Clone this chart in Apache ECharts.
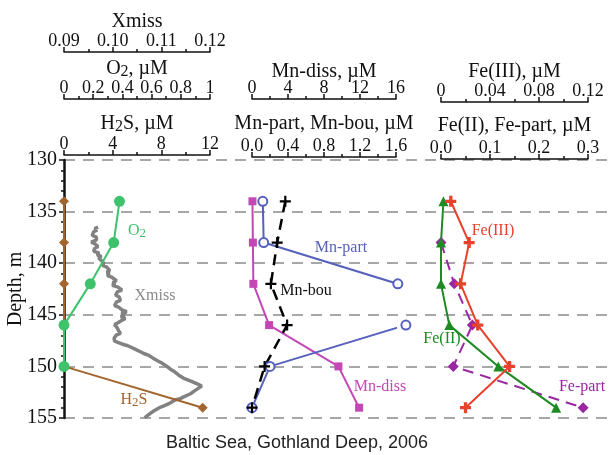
<!DOCTYPE html>
<html><head><meta charset="utf-8">
<script src="https://cdn.jsdelivr.net/npm/echarts/dist/echarts.min.js"></script>
<style>html,body{margin:0;padding:0;background:#fff}#c{width:609px;height:455px}</style>
</head><body><div id="c"></div>
<script>
// ---- data ----
const depths = [134, 138, 142, 146, 150, 154];
const o2Depths = [134, 138, 142, 146, 150];
const o2 = [0.38, 0.34, 0.18, 0, 0];
const h2s = [0, 0, 0, 0, 0, 11.4];
const mnDiss = [0.05, 0.1, 0.15, 1.9, 9.6, 11.9];
const mnPart = [0.12, 0.13, 1.62, 1.71, 0.2, 0.0];
const mnBou = [0.37, 0.28, 0.21, 0.39, 0.14, 0.0];
const fe2 = [0.005, 0.0, 0.0, 0.017, 0.117, 0.235];
const fe3 = [0.008, 0.023, 0.016, 0.030, 0.056, 0.020];
const fePartDepths = [138, 142, 146, 150, 154];
const fePart = [0.0, 0.027, 0.064, 0.025, 0.29];
const xmissDepth = [136.5,136.65,136.8,136.95,137.1,137.3,137.45,137.6,137.75,137.95,138.1,138.25,138.4,138.55,138.7,138.85,139.0,139.2,139.35,139.5,139.7,139.85,140.0,140.2,140.35,140.5,140.7,140.85,141.0,141.2,141.35,141.5,141.7,141.85,142.0,142.15,142.3,142.45,142.6,142.75,142.9,143.1,143.25,143.4,143.6,143.75,143.9,144.1,144.25,144.4,144.55,144.7,144.85,145.0,145.2,145.35,145.5,145.65,145.8,145.95,146.1,146.25,146.4,146.6,146.8,146.95,147.1,147.25,147.4,147.55,147.7,147.85,148.0,148.15,148.3,148.45,148.6,148.75,148.9,149.05,149.2,149.35,149.5,149.65,149.8,149.95,150.1,150.25,150.4,150.55,150.7,150.85,151.0,151.15,151.3,151.45,151.6,151.75,151.9,152.05,152.2,152.35,152.5,152.65,152.8,152.95,153.1,153.25,153.4,153.55,153.7,153.85,154.0,154.15,154.3,154.45,154.6,154.75,154.9,155.0];
const xmissVal = [0.0970,0.0963,0.0968,0.0961,0.0965,0.0958,0.0966,0.0962,0.0967,0.0956,0.0963,0.0960,0.0970,0.0963,0.0967,0.0961,0.0972,0.0968,0.0977,0.0971,0.0976,0.0972,0.0982,0.0979,0.0987,0.0984,0.0994,0.0988,0.0993,0.0989,0.0998,0.0996,0.1008,0.1000,0.1005,0.0999,0.1010,0.1007,0.1019,0.1010,0.1014,0.1006,0.1013,0.1009,0.1016,0.1008,0.1011,0.1004,0.1012,0.1010,0.1020,0.1029,0.1018,0.1024,0.1017,0.1026,0.1029,0.1015,0.1010,0.1004,0.1001,0.1009,0.1006,0.1013,0.1016,0.1008,0.1011,0.1003,0.1006,0.1004,0.1012,0.1020,0.1031,0.1033,0.1045,0.1048,0.1058,0.1064,0.1073,0.1072,0.1083,0.1087,0.1094,0.1100,0.1102,0.1110,0.1110,0.1118,0.1120,0.1128,0.1127,0.1136,0.1139,0.1146,0.1150,0.1162,0.1166,0.1176,0.1183,0.1178,0.1182,0.1169,0.1172,0.1160,0.1158,0.1146,0.1140,0.1128,0.1130,0.1118,0.1114,0.1104,0.1096,0.1094,0.1085,0.1082,0.1076,0.1072,0.1068,0.1066];
const depthTicks = [130, 155, 5];

// ---- helpers ----
const SERIF = '"Liberation Serif", "DejaVu Serif", serif';
const INK = '#111';
const pair = (xs, ys) => xs.map((x, i) => [x, ys[i]]);
const richName = {
  t: {fontFamily: SERIF, fontSize: 20, color: INK},
  s: {fontFamily: SERIF, fontSize: 16, color: INK, padding: [7, 0, 0, 0]}
};
function topAxis(grid, min, max, interval, minorSplit, offset, name, nameGap, fmt) {
  return {
    gridIndex: grid, type: 'value', position: 'top', min, max, interval, offset,
    name, nameLocation: 'middle', nameGap, nameMoveOverlap: false,
    nameTextStyle: {fontFamily: SERIF, fontSize: 20, color: INK, rich: richName},
    axisLine: {show: true, onZero: false, lineStyle: {color: INK, width: 1.5}},
    axisTick: {show: true, length: 5, lineStyle: {color: INK, width: 1.5}},
    minorTick: {show: true, splitNumber: minorSplit, length: 3, lineStyle: {color: INK, width: 1.5}},
    axisLabel: {margin: 2, fontFamily: SERIF, fontSize: 18, color: INK, formatter: fmt},
    splitLine: {show: false}, minorSplitLine: {show: false}
  };
}
function hiddenY(grid) {
  return {gridIndex: grid, type: 'value', inverse: true, min: depthTicks[0], max: depthTicks[1], show: false};
}
const crossThin = 'path://M4,0h2v4h4v2h-4v4h-2v-4h-4v-2h4z';
const crossThick = 'path://M3.5,0h3v3.5h3.5v3h-3.5v3.5h-3v-3.5h-3.5v-3h3.5z';

const GT = 160, GH = 258;
const gridBase = {top: GT, height: GH, containLabel: false, outerBoundsMode: 'none'};
const option = {
  animation: false,
  backgroundColor: '#fff',
  grid: [
    Object.assign({left: 64, width: 545}, gridBase),
    Object.assign({left: 64, width: 146}, gridBase),
    Object.assign({left: 252, width: 144}, gridBase),
    Object.assign({left: 441, width: 147}, gridBase)
  ],
  xAxis: [
    {gridIndex: 0, type: 'value', min: 0, max: 1, show: false},
    topAxis(1, 0, 12, 4, 2, 5, '{t|H}{s|2}{t|S, µM}', 20, v => String(v)),
    topAxis(1, 0, 1, 0.2, 2, 61, '{t|O}{s|2}{t|, µM}', 19, v => (v === 0 || v === 1) ? String(v) : v.toFixed(1)),
    topAxis(1, 0.09, 0.12, 0.01, 2, 108, 'Xmiss', 20, v => v.toFixed(2)),
    topAxis(2, 0, 1.6, 0.4, 2, 3, 'Mn-part, Mn-bou, µM', 23, v => v.toFixed(1)),
    topAxis(2, 0, 16, 4, 2, 61, 'Mn-diss, µM', 17, v => String(Math.round(v))),
    topAxis(3, 0, 0.3, 0.1, 2, 1, 'Fe(II), Fe-part, µM', 23, v => v.toFixed(1)),
    topAxis(3, 0, 0.12, 0.04, 2, 58, 'Fe(III), µM', 20, v => v === 0 ? '0' : v.toFixed(2))
  ],
  yAxis: [
    {
      gridIndex: 0, type: 'value', inverse: true, min: depthTicks[0], max: depthTicks[1], interval: depthTicks[2],
      name: 'Depth, m', nameLocation: 'middle', nameGap: 38, nameRotate: 90, nameMoveOverlap: false,
      nameTextStyle: {fontFamily: SERIF, fontSize: 20, color: INK},
      axisLine: {show: true, lineStyle: {color: INK, width: 2.5}},
      axisTick: {show: true, length: 5, lineStyle: {color: INK, width: 1.5}},
      minorTick: {show: true, splitNumber: 5, length: 3, lineStyle: {color: INK, width: 1.5}},
      axisLabel: {margin: 7, fontFamily: SERIF, fontSize: 20, color: INK},
      splitLine: {show: true, lineStyle: {color: '#8a8a8a', width: 1.5, type: [11, 8]}}
    },
    hiddenY(1), hiddenY(2), hiddenY(3)
  ],
  series: [
    {name: 'Xmiss', type: 'line', xAxisIndex: 3, yAxisIndex: 1, data: pair(xmissVal, xmissDepth),
      showSymbol: false, clip: false, lineStyle: {color: '#828282', width: 3.5}},
    {name: 'H2S', type: 'line', xAxisIndex: 1, yAxisIndex: 1, data: pair(h2s, depths), clip: false,
      symbol: 'diamond', symbolSize: 10, itemStyle: {color: '#a3652e'}, lineStyle: {color: '#a3652e', width: 2}},
    {name: 'O2', type: 'line', xAxisIndex: 2, yAxisIndex: 1, data: pair(o2, o2Depths), clip: false,
      symbol: 'circle', symbolSize: 11, itemStyle: {color: '#3ec36c'}, lineStyle: {color: '#3ec36c', width: 2}},
    {name: 'Mn-diss', type: 'line', xAxisIndex: 5, yAxisIndex: 2, data: pair(mnDiss, depths), clip: false,
      symbol: 'rect', symbolSize: 8, itemStyle: {color: '#c447b6'}, lineStyle: {color: '#c447b6', width: 2}},
    {name: 'Mn-part', type: 'line', xAxisIndex: 4, yAxisIndex: 2, data: pair(mnPart, depths), clip: false,
      symbol: 'emptyCircle', symbolSize: 9, itemStyle: {color: '#5561bd', borderWidth: 1.5}, lineStyle: {color: '#5561bd', width: 2}},
    {name: 'Mn-bou', type: 'line', xAxisIndex: 4, yAxisIndex: 2, data: pair(mnBou, depths), clip: false,
      symbol: crossThin, symbolSize: 11, itemStyle: {color: '#000'}, lineStyle: {color: '#000', width: 2.5, type: [11, 7]}},
    {name: 'Fe-part', type: 'line', xAxisIndex: 6, yAxisIndex: 3, data: pair(fePart, fePartDepths), clip: false,
      symbol: 'diamond', symbolSize: 11, itemStyle: {color: '#9a26a2'}, lineStyle: {color: '#9a26a2', width: 2, type: [11, 7]}},
    {name: 'Fe(II)', type: 'line', xAxisIndex: 6, yAxisIndex: 3, data: pair(fe2, depths), clip: false,
      symbol: 'triangle', symbolSize: 10, itemStyle: {color: '#1d8a22'}, lineStyle: {color: '#1d8a22', width: 2}},
    {name: 'Fe(III)', type: 'line', xAxisIndex: 7, yAxisIndex: 3, data: pair(fe3, depths), clip: false,
      symbol: crossThick, symbolSize: 11, itemStyle: {color: '#e8412c'}, lineStyle: {color: '#e8412c', width: 2}}
  ],
  graphic: [
    {type: 'text', x: 137, y: 231, style: {text: '{a|O}{b|2}', align: 'center', verticalAlign: 'middle',
      rich: {a: {fontFamily: SERIF, fontSize: 16, fill: '#3ec36c', color: '#3ec36c'}, b: {fontFamily: SERIF, fontSize: 13, fill: '#3ec36c', color: '#3ec36c', padding: [6, 0, 0, 0]}}}},
    {type: 'text', x: 155, y: 296, style: {text: 'Xmiss', align: 'center', verticalAlign: 'middle', font: '16px ' + SERIF, fill: '#8a8a8a'}},
    {type: 'text', x: 134, y: 400, style: {text: '{a|H}{b|2}{a|S}', align: 'center', verticalAlign: 'middle',
      rich: {a: {fontFamily: SERIF, fontSize: 16, fill: '#a3652e', color: '#a3652e'}, b: {fontFamily: SERIF, fontSize: 13, fill: '#a3652e', color: '#a3652e', padding: [6, 0, 0, 0]}}}},
    {type: 'text', x: 341, y: 248, style: {text: 'Mn-part', align: 'center', verticalAlign: 'middle', font: '16px ' + SERIF, fill: '#5561bd'}},
    {type: 'text', x: 306, y: 291, style: {text: 'Mn-bou', align: 'center', verticalAlign: 'middle', font: '16px ' + SERIF, fill: '#111'}},
    {type: 'text', x: 380, y: 387, style: {text: 'Mn-diss', align: 'center', verticalAlign: 'middle', font: '16px ' + SERIF, fill: '#c447b6'}},
    {type: 'text', x: 493, y: 231, style: {text: 'Fe(III)', align: 'center', verticalAlign: 'middle', font: '16px ' + SERIF, fill: '#e8412c'}},
    {type: 'text', x: 442, y: 339, style: {text: 'Fe(II)', align: 'center', verticalAlign: 'middle', font: '16px ' + SERIF, fill: '#1d8a22'}},
    {type: 'text', x: 582, y: 387, style: {text: 'Fe-part', align: 'center', verticalAlign: 'middle', font: '16px ' + SERIF, fill: '#9a26a2'}},
    {type: 'text', x: 297, y: 443, style: {text: 'Baltic Sea, Gothland Deep, 2006', align: 'center', verticalAlign: 'middle', font: '18px "Liberation Sans", Arial, sans-serif', fill: '#222'}}
  ]
};
const chart = echarts.init(document.getElementById('c'), null, {renderer: 'canvas'});
chart.setOption(option);
</script>
</body></html>
